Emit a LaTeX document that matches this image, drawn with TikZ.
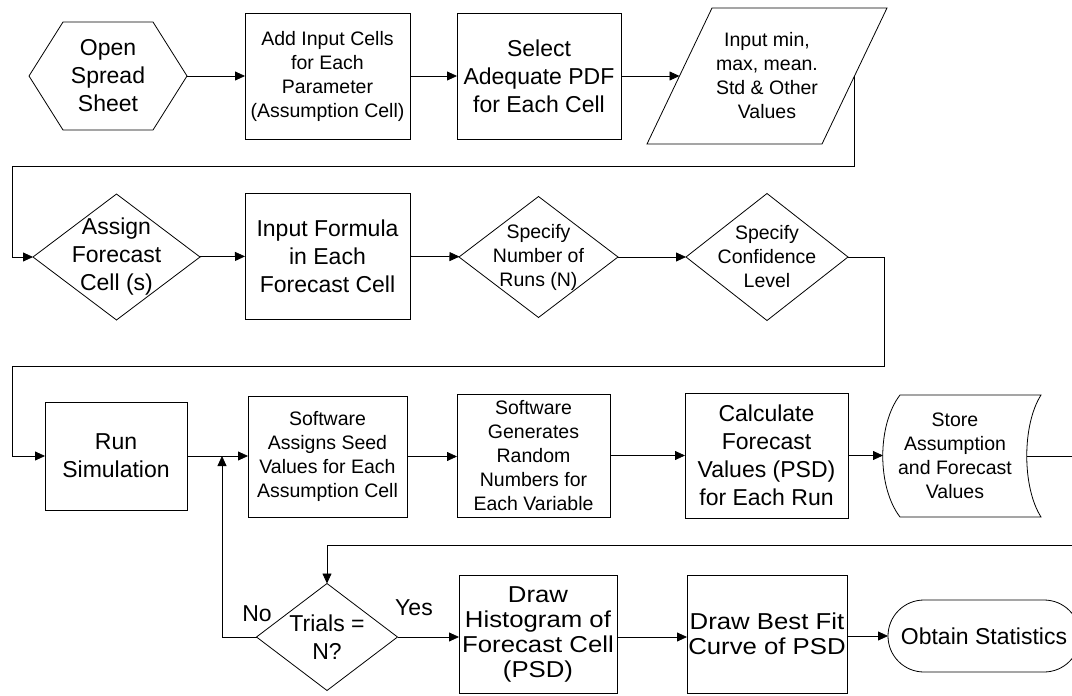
\documentclass[tikz,border=0pt]{standalone}
\usepackage{fontspec}
\setmainfont{Liberation Sans}
\newfontfamily\widesf[FakeStretch=1.12]{Liberation Sans}
\usetikzlibrary{arrows.meta, calc, shapes.geometric}

\begin{document}
\begin{tikzpicture}[x=1pt, y=-1pt,
    every node/.style={align=center, inner sep=0pt, outer sep=0pt},
    big/.style={font=\fontsize{23}{28}\selectfont},
    small/.style={font=\fontsize{19.5}{24}\selectfont},
    wide/.style={font=\widesf\fontsize{23}{25}\selectfont},
    line/.style={line width=0.8pt},
    arr/.style={line, -{Triangle[length=10pt, width=9pt]}},
    procbox/.style 2 args={draw, line width=0.8pt, minimum width=#1, minimum height=#2},
    decision/.style 2 args={diamond, draw, line width=0.8pt, minimum width=#1, minimum height=#2}]
    \useasboundingbox (0,0) rectangle (1072,696);
    \clip (0,0) rectangle (1072,696);

    \node (open) [minimum width=158pt, minimum height=108pt, big] at (108,76) {Open\\Spread\\Sheet};
    \draw [line] (open.west) -- ($(open.north west)+(34,0)$) -- ($(open.north east)+(-34,0)$) -- (open.east)
        -- ($(open.south east)+(-34,0)$) -- ($(open.south west)+(34,0)$) -- cycle;
    \node (add) [procbox={165pt}{126pt}, small] at (327.5,76) {Add Input Cells\\for Each\\Parameter\\(Assumption Cell)};
    \node (sel) [procbox={164pt}{126pt}, big] at (539,76) {Select\\Adequate PDF\\for Each Cell};
    \node (inp) [minimum width=175pt, minimum height=136pt, small] at (767,76) {Input min,\\max, mean.\\Std \& Other\\Values};
    \draw [line] ($(inp.north west)+(32.5,0)$) -- ($(inp.north east)+(32.5,0)$)
        -- ($(inp.south east)+(-32.5,0)$) -- ($(inp.south west)+(-32.5,0)$) -- cycle;

    \node (asg) [decision={167pt}{126pt}, label={[big]center:Assign\\Forecast\\Cell (s)}] at (116.5,257) {};
    \node (form) [procbox={165pt}{126pt}, big] at (327.5,256) {Input Formula\\in Each\\Forecast Cell};
    \node (runs) [decision={159pt}{121pt}, label={[small]center:Specify\\Number of\\Runs (N)}] at (538.5,257) {};
    \node (conf) [decision={162pt}{127pt}, label={[small]center:Specify\\Confidence\\Level}] at (767,257) {};

    \node (run) [procbox={142pt}{108pt}, big] at (116,456) {Run\\Simulation};
    \node (seed) [procbox={159pt}{121pt}, small] at (327.5,456.5) {Software\\Assigns Seed\\Values for Each\\Assumption Cell};
    \node (gen) [procbox={153pt}{123pt}, small] at (533.5,455.5) {Software\\Generates\\Random\\Numbers for\\Each Variable};
    \node (calc) [procbox={163pt}{125pt}, big] at (766.5,455.5) {Calculate\\Forecast\\Values (PSD)\\for Each Run};
    \node (store) [minimum width=144pt, minimum height=122pt, small] at (955,456) {Store\\Assumption\\and Forecast\\Values};
    \draw [line] ($(store.north west)+(17,0)$) -- ($(store.north east)+(14,0)$)
        .. controls ($(store.north east)+(-5,30)$) and ($(store.south east)+(-5,-30)$) .. ($(store.south east)+(14,0)$)
        -- ($(store.south west)+(17,0)$)
        .. controls ($(store.south west)+(-6,-30)$) and ($(store.north west)+(-6,30)$) .. cycle;

    \node (trials) [decision={141pt}{107pt}, label={[big]center:Trials =\\N?}] at (327,637) {};
    \node (hist) [procbox={158pt}{118pt}, wide] at (538,634) {Draw\\Histogram of\\Forecast Cell\\(PSD)};
    \node (fit) [procbox={160pt}{118pt}, wide] at (767,634) {Draw Best Fit\\Curve of PSD};
    \node (stats) [draw, line width=0.8pt, rounded corners=36pt, minimum width=192pt, minimum height=72pt, big] at (984,636) {Obtain Statistics};
    \node (no) [big] at (257,614) {No};
    \node (yes) [big] at (414,608) {Yes};

    \coordinate (r1) at (12,166);
    \coordinate (r2) at (884,366);
    \coordinate (r3) at (12,366);
    \coordinate (r4) at (1090,545);
    \coordinate (j) at (222,456);

    \draw [arr] (open) -- (add);
    \draw [arr] (add) -- (sel);
    \draw [arr] (sel) -- (inp);
    \draw [arr] (inp.east) |- (r1) |- (asg.west);
    \draw [arr] (asg) -- (form);
    \draw [arr] (form) -- (runs);
    \draw [arr] (runs) -- (conf);
    \draw [arr] (conf.east) -| (r2) -- (r3) |- (run.west);
    \draw [arr] (run.east) -- (run.east -| seed.west);
    \draw [arr] (seed.east) -- (seed.east -| gen.west);
    \draw [arr] (gen.east) -- (gen.east -| calc.west);
    \draw [arr] (calc.east) -- (calc.east -| store.west);
    \draw [arr] (store.east) -| (r4) -| (trials.north);
    \draw [arr] (trials.west) -| (j);
    \draw [arr] (trials.east) -- (trials.east -| hist.west);
    \draw [arr] (hist.east |- trials.east) -- (fit.west |- trials.east);
    \draw [arr] (fit.east |- stats.west) -- (stats.west);
\end{tikzpicture}
\end{document}
